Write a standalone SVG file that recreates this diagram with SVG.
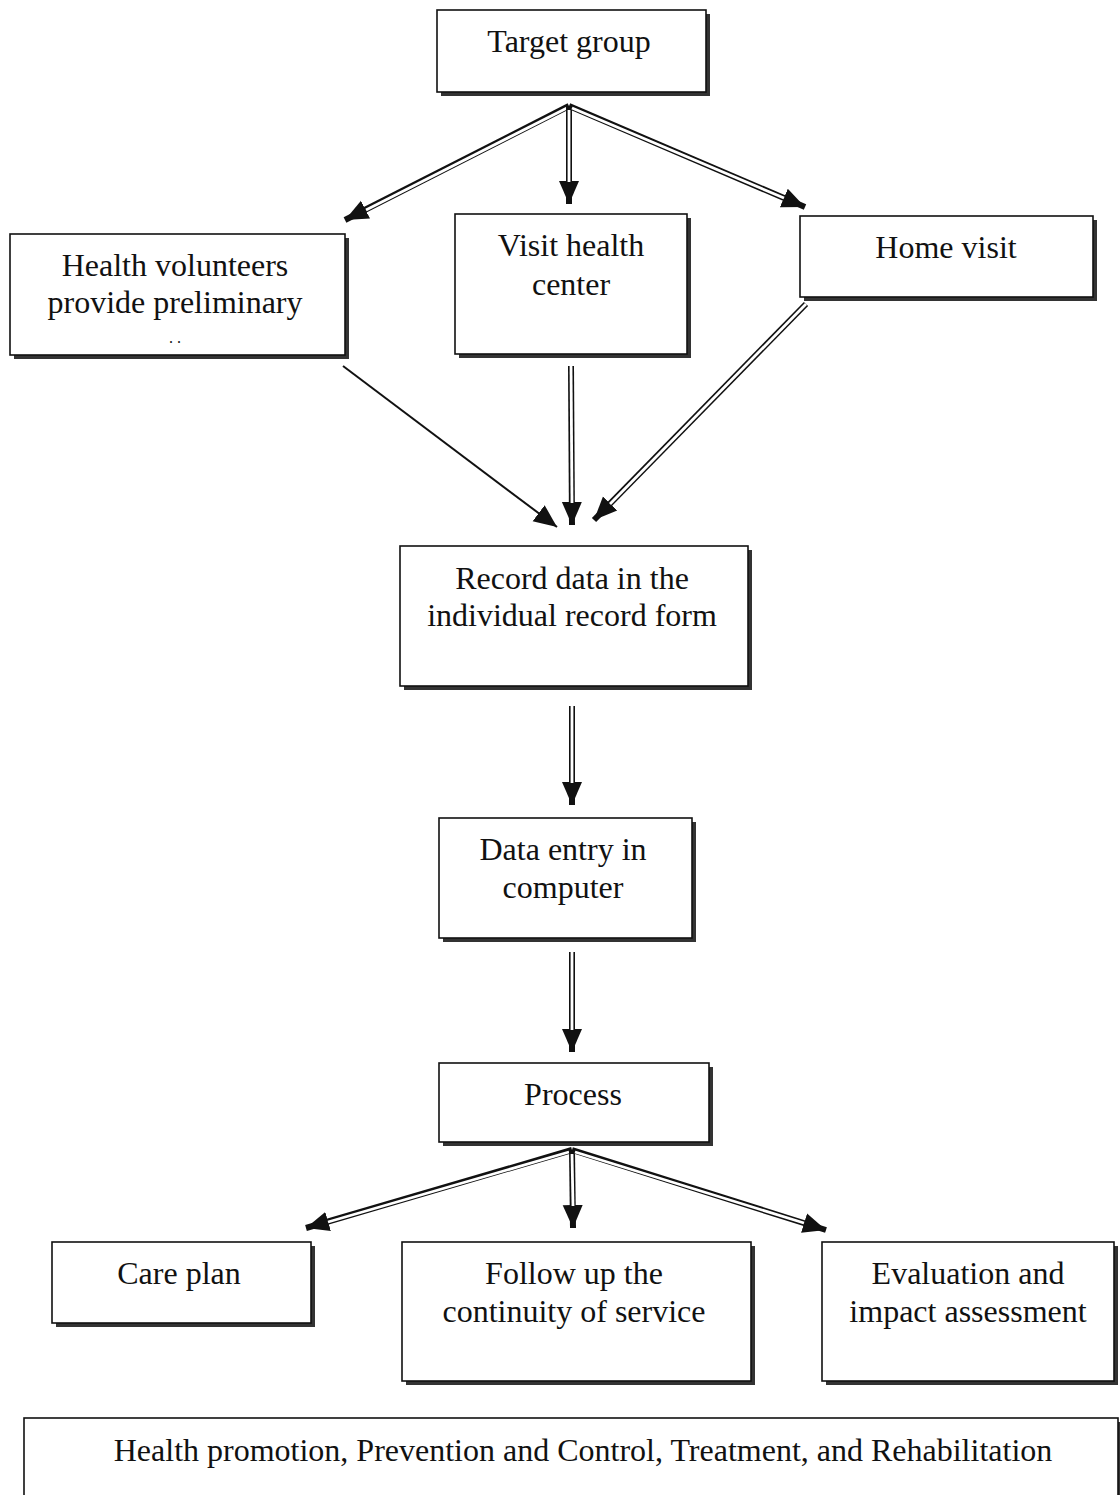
<svg xmlns="http://www.w3.org/2000/svg" width="1120" height="1495" viewBox="0 0 1120 1495">
<style>
.box{fill:#fff;stroke:#111;stroke-width:1.6}
.sh{fill:#333}
.t{font-family:"Liberation Serif","Times New Roman",serif;font-size:32px;fill:#111;text-anchor:middle}
.o{stroke:#111;stroke-width:6;fill:none}
.i{stroke:#fff;stroke-width:2.8;fill:none}
.s{stroke:#111;stroke-width:2;fill:none}
</style>
<defs>
<marker id="ah" markerUnits="userSpaceOnUse" markerWidth="24" markerHeight="22" refX="23" refY="11" orient="auto">
<path d="M0,1 L23,11 L0,21 Z" fill="#111"/>
</marker>
</defs>
<g id="connectors">
<line class="o" x1="569" y1="106" x2="345" y2="220" marker-end="url(#ah)"/>
<line class="i" x1="567" y1="108" x2="366" y2="210"/>
<line class="o" x1="569" y1="106" x2="569" y2="204" marker-end="url(#ah)"/>
<line class="i" x1="569" y1="110" x2="569" y2="182"/>
<line class="o" x1="569" y1="106" x2="805" y2="207" marker-end="url(#ah)"/>
<line class="i" x1="572" y1="108" x2="784" y2="198"/>
<line class="s" x1="343" y1="366" x2="557" y2="527" marker-end="url(#ah)"/>
<line class="o" x1="571" y1="366" x2="572" y2="525" marker-end="url(#ah)"/>
<line class="i" x1="571" y1="366" x2="572" y2="503"/>
<line class="o" x1="806" y1="304" x2="594" y2="520" marker-end="url(#ah)"/>
<line class="i" x1="806" y1="304" x2="610" y2="504"/>
<line class="o" x1="572" y1="706" x2="572" y2="805" marker-end="url(#ah)"/>
<line class="i" x1="572" y1="706" x2="572" y2="783"/>
<line class="o" x1="572" y1="952" x2="572" y2="1052" marker-end="url(#ah)"/>
<line class="i" x1="572" y1="952" x2="572" y2="1030"/>
<line class="o" x1="572" y1="1150" x2="306" y2="1228" marker-end="url(#ah)"/>
<line class="i" x1="569" y1="1152" x2="328" y2="1222"/>
<line class="o" x1="572" y1="1150" x2="573" y2="1228" marker-end="url(#ah)"/>
<line class="i" x1="572" y1="1154" x2="573" y2="1206"/>
<line class="o" x1="572" y1="1150" x2="826" y2="1230" marker-end="url(#ah)"/>
<line class="i" x1="575" y1="1152" x2="804" y2="1223"/>
</g>
<g id="target-group">
<rect class="sh" x="441" y="14" width="269" height="82"/>
<rect class="box" x="437" y="10" width="269" height="82"/>
<text class="t" x="569" y="52">Target group</text>
</g>
<g id="health-volunteers">
<rect class="sh" x="14" y="238" width="335" height="121"/>
<rect class="box" x="10" y="234" width="335" height="121"/>
<text class="t" x="175" y="276">Health volunteers</text>
<text class="t" x="175" y="313">provide preliminary</text>
<text class="t" x="175" y="343" style="font-size:16px">.  .</text>
</g>
<g id="visit-health-center">
<rect class="sh" x="459" y="218" width="232" height="140"/>
<rect class="box" x="455" y="214" width="232" height="140"/>
<text class="t" x="571" y="256">Visit health</text>
<text class="t" x="571" y="295">center</text>
</g>
<g id="home-visit">
<rect class="sh" x="804" y="220" width="293" height="81"/>
<rect class="box" x="800" y="216" width="293" height="81"/>
<text class="t" x="946" y="258">Home visit</text>
</g>
<g id="record-data">
<rect class="sh" x="404" y="550" width="348" height="140"/>
<rect class="box" x="400" y="546" width="348" height="140"/>
<text class="t" x="572" y="589">Record data in the</text>
<text class="t" x="572" y="626">individual record form</text>
</g>
<g id="data-entry">
<rect class="sh" x="443" y="822" width="253" height="120"/>
<rect class="box" x="439" y="818" width="253" height="120"/>
<text class="t" x="563" y="860">Data entry in</text>
<text class="t" x="563" y="898">computer</text>
</g>
<g id="process">
<rect class="sh" x="443" y="1067" width="270" height="79"/>
<rect class="box" x="439" y="1063" width="270" height="79"/>
<text class="t" x="573" y="1105">Process</text>
</g>
<g id="care-plan">
<rect class="sh" x="56" y="1246" width="259" height="81"/>
<rect class="box" x="52" y="1242" width="259" height="81"/>
<text class="t" x="179" y="1284">Care plan</text>
</g>
<g id="follow-up">
<rect class="sh" x="406" y="1246" width="349" height="139"/>
<rect class="box" x="402" y="1242" width="349" height="139"/>
<text class="t" x="574" y="1284">Follow up the</text>
<text class="t" x="574" y="1322">continuity of service</text>
</g>
<g id="evaluation">
<rect class="sh" x="826" y="1246" width="292" height="139"/>
<rect class="box" x="822" y="1242" width="292" height="139"/>
<text class="t" x="968" y="1284">Evaluation and</text>
<text class="t" x="968" y="1322">impact assessment</text>
</g>
<g id="health-promotion">
<rect class="sh" x="28" y="1422" width="1094" height="80"/>
<rect class="box" x="24" y="1418" width="1094" height="80"/>
<text class="t" x="583" y="1461">Health promotion, Prevention and Control, Treatment, and Rehabilitation</text>
</g>
</svg>
